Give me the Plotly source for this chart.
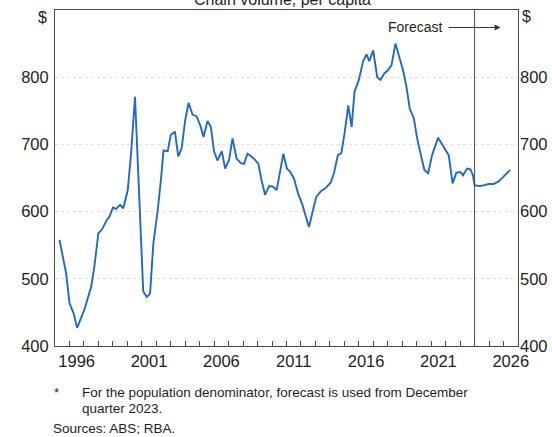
import plotly.graph_objects as go

# ---- data ----
years = [1995.31, 1995.77, 1996.0, 1996.28, 1996.53, 1997.03, 1997.5, 1997.72, 1998.0, 1998.26,
         1998.6, 1998.76, 1999.0, 1999.22, 1999.5, 1999.72, 2000.03, 2000.26, 2000.53, 2000.88,
         2001.1, 2001.34, 2001.57, 2001.8, 2002.1, 2002.32, 2002.5, 2002.79, 2003.0, 2003.29,
         2003.52, 2003.75, 2004.0, 2004.23, 2004.51, 2004.78, 2005.03, 2005.27, 2005.54, 2005.77,
         2006.0, 2006.23, 2006.53, 2006.76, 2007.03, 2007.27, 2007.55, 2007.84, 2008.07, 2008.3,
         2008.58, 2008.83, 2009.06, 2009.27, 2009.52, 2009.8, 2010.07, 2010.32, 2010.55, 2010.78,
         2011.03, 2011.26, 2011.52, 2011.8, 2012.1, 2012.32, 2012.55, 2012.83, 2013.06, 2013.36,
         2013.7, 2014.05, 2014.28, 2014.55, 2014.79, 2015.01, 2015.27, 2015.5, 2015.7, 2016.0,
         2016.3, 2016.53, 2016.72, 2016.99, 2017.27, 2017.5, 2017.77, 2018.0, 2018.26, 2018.53,
         2018.76, 2019.06, 2019.29, 2019.52, 2019.8, 2020.03, 2020.26, 2020.53, 2020.79, 2021.06,
         2021.48, 2021.79, 2022.1, 2022.21, 2022.48, 2022.74, 2023.02, 2023.2, 2023.48, 2023.71,
         2023.89, 2024.0]
values = [558, 508, 464, 449, 427, 454, 488, 518, 568, 574,
          588, 592, 606, 604, 610, 605, 632, 687, 771, 587,
          481, 473, 478, 553, 602, 647, 691, 690, 714, 719,
          682, 694, 736, 762, 744, 742, 729, 711, 735, 726,
          689, 676, 690, 664, 677, 709, 679, 672, 671, 686,
          682, 677, 671, 647, 625, 638, 637, 632, 662, 686,
          664, 659, 649, 627, 610, 595, 577, 602, 622, 630,
          635, 643, 657, 684, 687, 716, 758, 726, 778, 796,
          824, 834, 824, 840, 800, 796, 806, 810, 818, 850,
          833, 810, 786, 753, 739, 709, 687, 662, 657, 684,
          710, 699, 688, 684, 642, 658, 659, 654, 664, 663,
          654, 639]

fc_years = [2024.0, 2024.33, 2024.62, 2024.97, 2025.31, 2025.66, 2026.0, 2026.46]
fc_values = [639, 638, 639, 641, 641, 645, 652, 662]

x_label_years = [1996, 2001, 2006, 2011, 2016, 2021, 2026]
y_ticks = [400, 500, 600, 700, 800]
forecast_start = 2024.0

LINE = "#2168c8"
AX = "#4a4a4a"
TXT = "#1e1e1e"
FONT = "Liberation Sans, Arial, sans-serif"

fig = go.Figure()
fig.add_trace(go.Scatter(x=years, y=values, mode="lines",
                         line=dict(color=LINE, width=1.9), showlegend=False))
fig.add_trace(go.Scatter(x=fc_years, y=fc_values, mode="lines",
                         line=dict(color=LINE, width=1.9), showlegend=False))
# invisible trace for the right axis
fig.add_trace(go.Scatter(x=[years[0]], y=[values[0]], yaxis="y2", mode="lines",
                         line=dict(width=0), showlegend=False, hoverinfo="skip"))

fig.add_shape(type="line", xref="x", yref="paper", x0=forecast_start, x1=forecast_start,
              y0=0, y1=1, line=dict(color=AX, width=1))

fig.add_annotation(x=2025.8, y=874, ax=2022.1, ay=874, xref="x", yref="y",
                   axref="x", ayref="y", text="", showarrow=True, arrowhead=2,
                   arrowsize=1.2, arrowwidth=1, arrowcolor="#333")
fig.add_annotation(x=2021.95, y=874, xref="x", yref="y", text="Forecast", showarrow=False,
                   xanchor="right", font=dict(size=14, color=TXT, family=FONT))

fig.add_annotation(x=0.497, y=1.001, xref="paper", yref="paper", yanchor="bottom",
                   text="Chain volume, per capita*", showarrow=False,
                   font=dict(size=16, color=TXT, family=FONT))

fig.add_annotation(x=-0.012, y=0.977, xref="paper", yref="paper", xanchor="right", yanchor="middle",
                   text="$", showarrow=False, font=dict(size=16, color=TXT, family=FONT))
fig.add_annotation(x=1.004, y=0.982, xref="paper", yref="paper", xanchor="left", yanchor="middle",
                   text="$", showarrow=False, font=dict(size=16, color=TXT, family=FONT))

foot_font = dict(size=13.5, color=TXT, family=FONT)
fig.add_annotation(x=0.005, y=-0.137, xref="paper", yref="paper", xanchor="center", yanchor="middle",
                   text="*", showarrow=False, font=foot_font)
fig.add_annotation(x=0.054, y=-0.137, xref="paper", yref="paper", xanchor="left", yanchor="middle",
                   text="For the population denominator, forecast is used from December",
                   showarrow=False, font=foot_font)
fig.add_annotation(x=0.054, y=-0.185, xref="paper", yref="paper", xanchor="left", yanchor="middle",
                   text="quarter 2023.", showarrow=False, font=foot_font)
fig.add_annotation(x=-0.008, y=-0.247, xref="paper", yref="paper", xanchor="left", yanchor="middle",
                   text="Sources: ABS; RBA.", showarrow=False, font=foot_font)

fig.update_layout(
    width=552, height=437,
    margin=dict(l=55, r=34, t=10, b=91, autoexpand=False),
    paper_bgcolor="white", plot_bgcolor="white",
    font=dict(family=FONT, size=16, color=TXT),
    xaxis=dict(range=[1995, 2027], showgrid=False, zeroline=False,
               tickvals=[y + 0.5 for y in x_label_years],
               ticktext=[str(y) for y in x_label_years], ticks="",
               tickfont=dict(size=16.5), showline=True, linecolor=AX, linewidth=1, mirror=True,
               minor=dict(tickmode="array", tickvals=list(range(1996, 2027)), ticks="inside",
                          ticklen=5, tickcolor=AX, showgrid=False)),
    yaxis=dict(range=[400, 900], tickvals=y_ticks, ticks="", showgrid=True,
               gridcolor="#e0e0e0", griddash="dot", gridwidth=1, zeroline=False,
               showline=True, linecolor=AX, linewidth=1, mirror=True, tickfont=dict(size=16.5),
               ticklabelstandoff=2),
    yaxis2=dict(range=[400, 900], tickvals=y_ticks, overlaying="y", side="right",
                showgrid=False, zeroline=False, ticks="", tickfont=dict(size=16.5),
                ticklabelstandoff=1),
)

fig.write_html("out.html", config={"displayModeBar": False},
               post_script="document.body.style.margin='0';")
